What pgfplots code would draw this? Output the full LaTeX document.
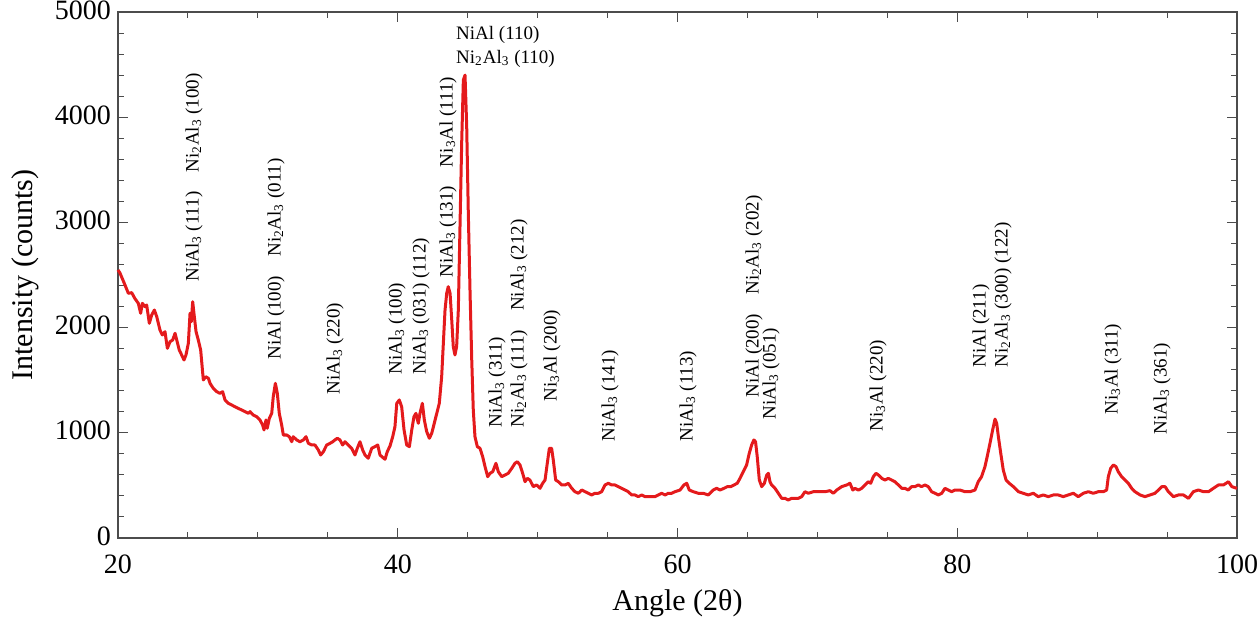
\documentclass[border=0pt]{standalone}
\usepackage{fontspec}
\setmainfont{Liberation Serif}
\usepackage{pgfplots}
\pgfplotsset{compat=1.18}

\definecolor{xrdred}{RGB}{228,26,28}
\newcommand{\lab}{\fontsize{9.5}{11}\selectfont}
\newcommand{\sub}[1]{\textsubscript{#1}}

\pgfplotstableread{
x y
20.00 2548
20.14 2519
20.50 2405
20.74 2326
20.98 2332
21.20 2278
21.45 2231
21.62 2136
21.74 2231
21.93 2199
22.05 2215
22.24 2041
22.41 2120
22.60 2167
22.77 2104
23.00 1977
23.17 1930
23.36 1961
23.53 1803
23.72 1866
23.91 1882
24.08 1946
24.20 1882
24.38 1787
24.55 1740
24.72 1692
24.86 1740
25.03 1851
25.15 2136
25.24 2056
25.34 2246
25.43 2136
25.58 1961
25.74 1882
25.91 1787
26.10 1502
26.27 1533
26.46 1518
26.58 1470
26.81 1423
27.06 1391
27.29 1375
27.48 1391
27.65 1312
27.89 1280
28.13 1264
28.36 1248
28.60 1232
28.84 1217
29.08 1201
29.32 1185
29.44 1201
29.67 1169
29.92 1153
30.15 1122
30.34 1074
30.44 1027
30.58 1122
30.67 1043
30.82 1138
30.99 1185
31.10 1343
31.25 1470
31.39 1375
31.53 1185
31.70 1074
31.82 979
32.06 979
32.25 963
32.42 915
32.53 963
32.77 932
33.01 915
33.25 932
33.44 963
33.61 900
33.85 884
34.08 884
34.32 837
34.49 789
34.68 820
34.92 884
35.16 900
35.35 915
35.51 932
35.68 948
35.87 932
36.06 884
36.23 915
36.46 884
36.70 853
36.94 789
37.11 853
37.30 915
37.49 837
37.66 789
37.89 758
38.14 853
38.37 868
38.57 884
38.73 789
38.92 767
39.09 748
39.25 820
39.45 876
39.64 963
39.80 1058
39.93 1280
40.11 1312
40.28 1248
40.45 1027
40.64 884
40.83 868
41.00 1027
41.16 1153
41.30 1185
41.47 1090
41.59 1185
41.76 1280
41.90 1122
42.07 1011
42.26 948
42.43 995
42.61 1090
42.79 1185
42.97 1280
43.14 1533
43.26 1851
43.38 2167
43.50 2326
43.61 2389
43.74 2326
43.86 2072
43.97 1819
44.09 1740
44.21 1819
44.33 2167
44.45 2959
44.57 3752
44.69 4354
44.81 4400
44.93 3910
45.04 3118
45.17 2326
45.29 1692
45.40 1217
45.52 963
45.69 868
45.88 853
46.07 773
46.24 678
46.43 583
46.60 615
46.79 630
47.02 710
47.19 630
47.43 583
47.67 599
47.90 615
48.15 662
48.38 710
48.55 725
48.74 694
48.93 615
49.10 535
49.26 567
49.45 551
49.69 488
49.93 504
50.17 472
50.36 520
50.53 551
50.69 710
50.84 853
51.00 853
51.12 741
51.29 551
51.48 535
51.72 504
51.96 504
52.19 520
52.44 472
52.67 440
52.91 425
53.15 456
53.39 440
53.62 425
53.86 409
54.10 425
54.34 425
54.58 440
54.82 504
55.05 520
55.29 504
55.53 504
55.77 488
56.01 472
56.25 456
56.48 440
56.72 409
56.96 409
57.20 393
57.44 409
57.68 393
57.91 393
58.15 393
58.39 393
58.63 409
58.87 425
59.11 409
59.34 425
59.58 425
59.82 440
60.18 456
60.46 504
60.66 520
60.84 456
61.13 440
61.49 425
61.84 425
62.20 409
62.56 456
62.80 472
63.04 456
63.32 472
63.56 488
63.80 488
64.04 504
64.27 520
64.47 567
64.70 630
64.94 694
65.13 805
65.30 884
65.46 932
65.58 915
65.70 773
65.85 551
66.02 488
66.21 520
66.38 599
66.50 615
66.61 535
66.73 504
66.97 472
67.21 425
67.45 377
67.69 377
67.92 361
68.16 377
68.40 377
68.64 377
68.88 393
69.11 440
69.35 425
69.71 440
70.07 440
70.55 440
70.90 450
71.14 425
71.38 456
71.74 488
72.10 504
72.33 520
72.53 456
72.69 472
72.93 456
73.17 472
73.41 504
73.64 535
73.81 520
74.00 583
74.19 615
74.36 599
74.60 567
74.83 551
75.07 567
75.31 551
75.55 535
75.79 504
76.03 472
76.26 472
76.50 456
76.74 488
76.98 488
77.22 504
77.45 488
77.69 504
77.93 488
78.17 440
78.41 425
78.65 409
78.89 425
79.12 472
79.36 456
79.60 440
79.84 456
80.20 456
80.55 440
80.91 440
81.27 456
81.50 535
81.74 583
81.98 678
82.14 773
82.34 900
82.53 1027
82.70 1130
82.82 1090
82.94 963
83.11 805
83.29 646
83.49 551
83.72 520
84.01 488
84.37 440
84.72 425
85.08 409
85.44 425
85.79 393
86.15 409
86.51 393
86.87 409
87.22 409
87.58 393
87.94 409
88.30 425
88.65 393
89.01 425
89.37 440
89.73 425
90.08 440
90.44 440
90.68 456
90.80 583
90.97 662
91.16 694
91.35 678
91.51 630
91.75 583
91.99 551
92.23 520
92.47 472
92.71 440
93.07 409
93.42 393
93.78 409
94.14 425
94.38 456
94.62 488
94.86 488
95.09 440
95.45 393
95.81 409
96.17 409
96.53 377
96.88 440
97.24 456
97.60 440
97.96 440
98.31 472
98.67 504
99.03 504
99.39 535
99.63 488
100.00 472
}\xrd

\begin{document}
\begin{tikzpicture}
\begin{axis}[
    scale only axis,
    width=559.5pt, height=263pt,
    xmin=20, xmax=100, ymin=0, ymax=5000,
    xtick={20,40,...,100},
    ytick={0,1000,...,5000},
    minor x tick num=3,
    minor y tick num=4,
    tick align=inside,
    major tick length=5pt,
    minor tick length=3pt,
    axis line style={black!70, line width=0.8pt},
    every tick/.style={black!70, line width=0.5pt},
    ticklabel style={font=\fontsize{14}{16}\selectfont},
    xticklabel style={yshift=-5pt},
    yticklabel style={yshift=1pt},
    /pgf/number format/assume math mode=true,
    /pgf/number format/1000 sep={},
    label style={font=\fontsize{15}{17}\selectfont},
    xlabel={Angle (2θ)},
    ylabel={Intensity (counts)},
    xlabel style={at={(axis description cs:0.5,-0.1236)}, anchor=center},
    ylabel style={at={(axis description cs:-0.083,0.5)}, anchor=center},
    clip=false,
]
\addplot[xrdred, line width=1.5pt, line join=round] table[x=x, y=y] {\xrd};

\begin{scope}[every node/.style={rotate=90, anchor=west, inner sep=0pt, font=\lab}]
\node at (axis cs:25.43,2434) {NiAl\sub{3} (111)\quad Ni\sub{2}Al\sub{3} (100)};
\node at (axis cs:31.30,1692) {NiAl (100)\quad Ni\sub{2}Al\sub{3} (011)};
\node at (axis cs:35.51,1359) {NiAl\sub{3} (220)};
\node at (axis cs:39.95,1549) {NiAl\sub{3} (100)};
\node at (axis cs:41.66,1549) {NiAl\sub{3} (031) (112)};
\node at (axis cs:43.59,2472) {NiAl\sub{3} (131)\quad Ni\sub{3}Al (111)};
\node at (axis cs:47.10,1046) {NiAl\sub{3} (311)};
\node at (axis cs:48.67,1046) {Ni\sub{2}Al\sub{3} (111)\quad NiAl\sub{3} (212)};
\node at (axis cs:51.03,1293) {Ni\sub{3}Al (200)};
\node at (axis cs:55.17,913) {NiAl\sub{3} (141)};
\node at (axis cs:60.75,913) {NiAl\sub{3} (113)};
\node at (axis cs:65.47,1331) {NiAl (200)\quad Ni\sub{2}Al\sub{3} (202)};
\node at (axis cs:66.68,1122) {NiAl\sub{3} (051)};
\node at (axis cs:74.33,1008) {Ni\sub{3}Al (220)};
\node at (axis cs:81.70,1616) {NiAl (211)};
\node at (axis cs:83.27,1616) {Ni\sub{2}Al\sub{3} (300) (122)};
\node at (axis cs:91.13,1169) {Ni\sub{3}Al (311)};
\node at (axis cs:94.64,979) {NiAl\sub{3} (361)};
\end{scope}
\node[anchor=west, align=left, inner sep=0pt, font=\lab] at (axis cs:44.15,4670)
  {NiAl (110)\\[1pt]Ni\sub{2}Al\sub{3} (110)};
\end{axis}
\pgfresetboundingbox
\path ([shift={(-59pt,-39.5pt)}]current axis.south west) rectangle ([shift={(10pt,6pt)}]current axis.north east);
\end{tikzpicture}
\end{document}
